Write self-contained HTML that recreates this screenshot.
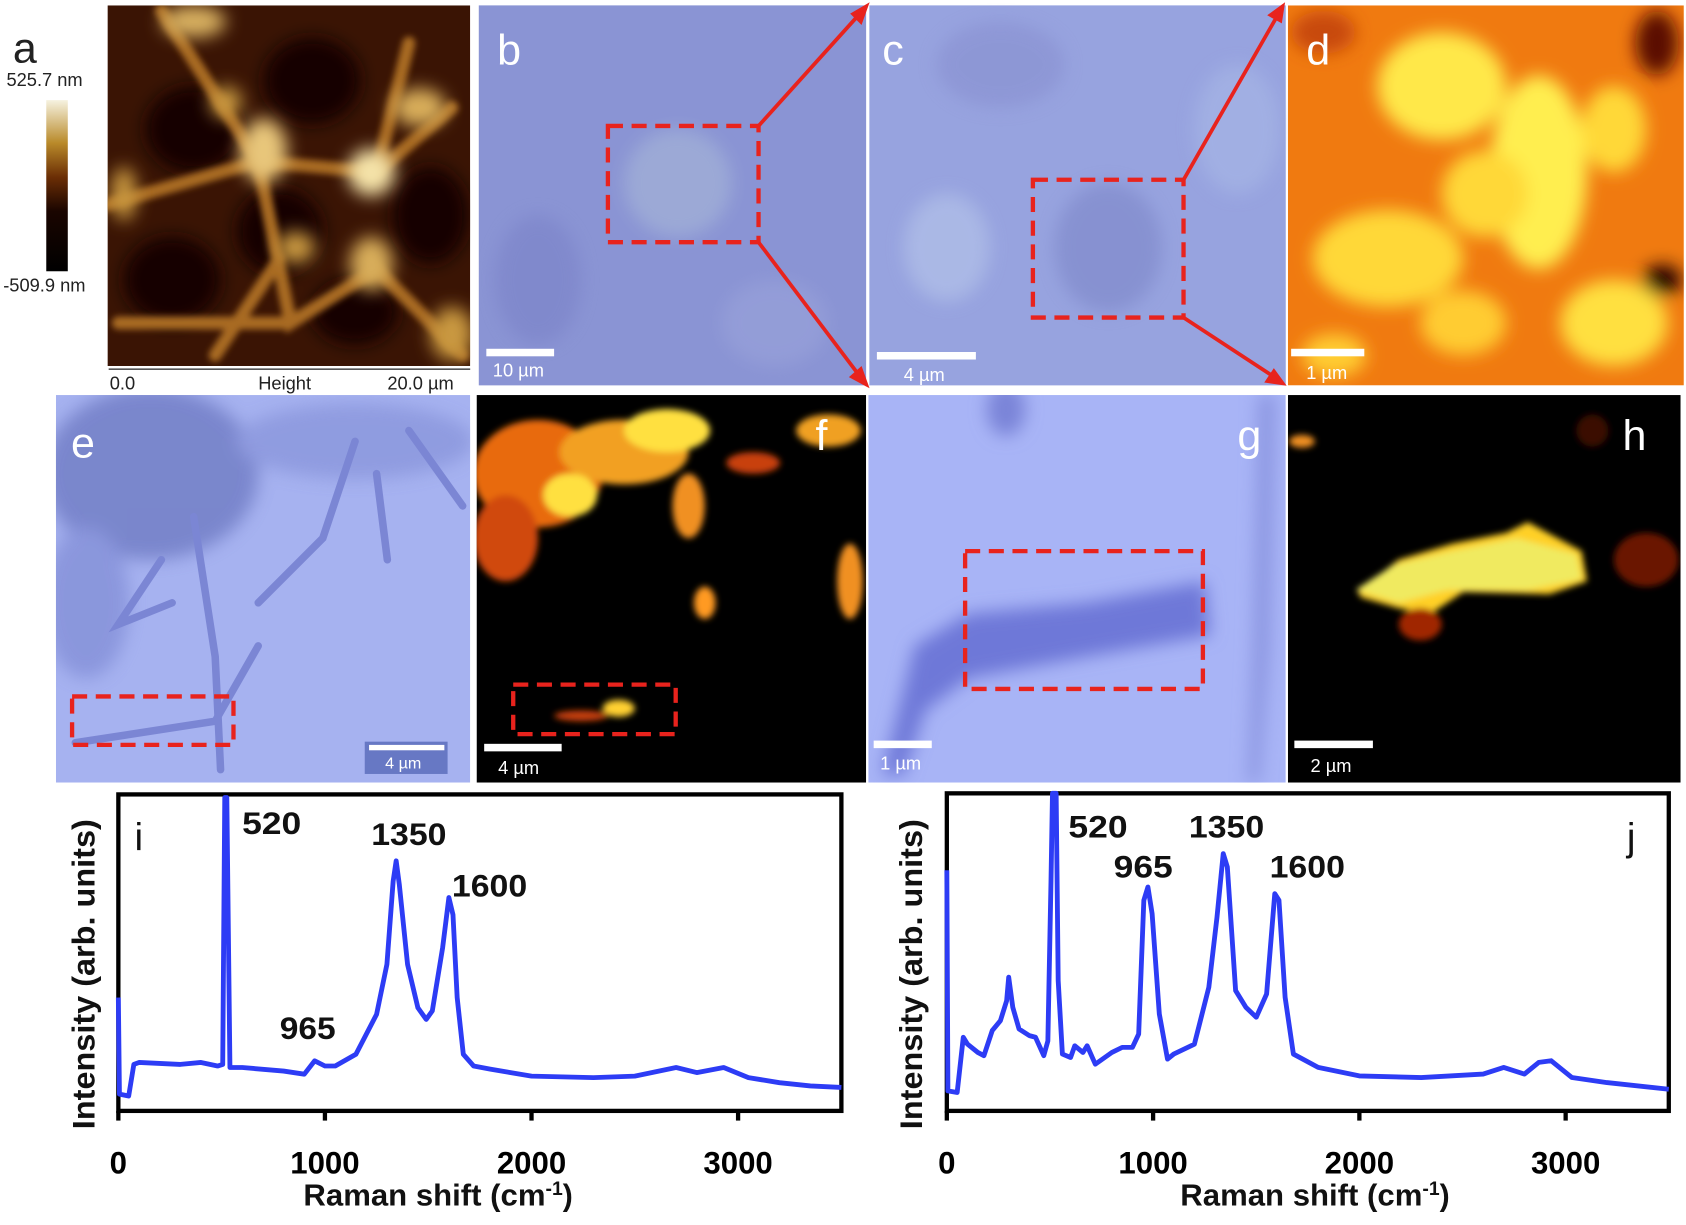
<!DOCTYPE html>
<html><head><meta charset="utf-8"><style>
html,body{margin:0;padding:0;background:#fff;}
svg{display:block;}
.lbl{font-family:"Liberation Sans",sans-serif;}
</style></head><body>
<svg id="fig" width="1686" height="1225" viewBox="0 0 1567 1138" preserveAspectRatio="none" xmlns="http://www.w3.org/2000/svg">
<defs>
<linearGradient id="cbar" x1="0" y1="1" x2="0" y2="0">
<stop offset="0" stop-color="#000"/><stop offset="0.35" stop-color="#1a0500"/><stop offset="0.55" stop-color="#6b2e05"/><stop offset="0.75" stop-color="#b98a2a"/><stop offset="1" stop-color="#f6f2e0"/></linearGradient>
<filter id="bl" x="-50%" y="-50%" width="200%" height="200%"><feGaussianBlur stdDeviation="8"/></filter>
<filter id="bl2" x="-50%" y="-50%" width="200%" height="200%"><feGaussianBlur stdDeviation="3"/></filter>
<clipPath id="cpa"><rect x="100" y="5" width="337" height="335"/></clipPath>
<clipPath id="cpd"><rect x="1197" y="5" width="368" height="353"/></clipPath>
<clipPath id="cpf"><rect x="443" y="367" width="362" height="360"/></clipPath>
<clipPath id="cph"><rect x="1197" y="367" width="365" height="360"/></clipPath>
<clipPath id="cpe"><rect x="52" y="367" width="385" height="360"/></clipPath>
<clipPath id="cpg"><rect x="807" y="367" width="388" height="360"/></clipPath>
</defs>

<!-- Panel a -->
<g>
<text class="lbl" x="12" y="58" font-size="40" fill="#222">a</text>
<text class="lbl" x="6" y="80" font-size="17" fill="#222">525.7 nm</text>
<rect x="43" y="93" width="20" height="159" fill="url(#cbar)"/>
<text class="lbl" x="3" y="271" font-size="17" fill="#222">-509.9 nm</text>
<g clip-path="url(#cpa)">
<rect x="100" y="5" width="337" height="335" fill="#3a1404"/>
<g filter="url(#bl)">
<ellipse cx="290" cy="75" rx="45" ry="40" fill="#150400"/>
<ellipse cx="180" cy="120" rx="45" ry="40" fill="#150400"/>
<ellipse cx="260" cy="215" rx="40" ry="40" fill="#150400"/>
<ellipse cx="400" cy="200" rx="35" ry="45" fill="#150400"/>
<ellipse cx="160" cy="260" rx="45" ry="40" fill="#150400"/>
<ellipse cx="330" cy="290" rx="40" ry="30" fill="#150400"/>
</g>
<g filter="url(#bl2)" stroke="#a86a20" stroke-width="12" fill="none" stroke-linecap="round">
<path d="M150 10 L240 150 L350 160 L420 100"/><path d="M240 150 L270 300 L350 250 L430 330"/><path d="M100 190 L240 150"/><path d="M350 160 L380 40"/><path d="M110 300 L270 300"/><path d="M200 330 L260 240"/>
</g>
<g filter="url(#bl)">
<ellipse cx="245" cy="140" rx="22" ry="30" fill="#e8c67a"/>
<ellipse cx="345" cy="160" rx="22" ry="22" fill="#f4e2a8"/>
<ellipse cx="390" cy="100" rx="25" ry="18" fill="#d8ad5a"/>
<ellipse cx="180" cy="20" rx="30" ry="15" fill="#d8b060"/>
<ellipse cx="345" cy="245" rx="20" ry="25" fill="#d8ad5a"/>
<ellipse cx="275" cy="230" rx="18" ry="15" fill="#c99840"/>
<ellipse cx="420" cy="310" rx="20" ry="25" fill="#c99840"/>
<ellipse cx="210" cy="95" rx="15" ry="15" fill="#c99840"/>
<ellipse cx="115" cy="180" rx="12" ry="25" fill="#c99840"/>
</g>
</g>
<line x1="101" y1="343" x2="437" y2="343" stroke="#555" stroke-width="1.5"/>
<text class="lbl" x="102" y="362" font-size="17" fill="#222">0.0</text>
<text class="lbl" x="240" y="362" font-size="17" fill="#222">Height</text>
<text class="lbl" x="360" y="362" font-size="17" fill="#222">20.0 µm</text>
</g>

<!-- Panel b -->
<g>
<rect x="445" y="5" width="360" height="353" fill="#8a94d4"/>
<g filter="url(#bl)" opacity="0.6"><ellipse cx="630" cy="170" rx="50" ry="50" fill="#a8b8d8"/><ellipse cx="500" cy="260" rx="40" ry="60" fill="#7a82c8"/><ellipse cx="720" cy="300" rx="50" ry="40" fill="#9aa3da"/></g>
<rect x="565" y="117" width="140" height="108" fill="none" stroke="#e8231d" stroke-width="4" stroke-dasharray="14,8"/>
<rect x="452" y="324" width="63" height="7" fill="#fff"/>
<text class="lbl" x="458" y="350" font-size="17" fill="#fff">10 µm</text>
<text class="lbl" x="462" y="60" font-size="40" fill="#fff">b</text>
</g>

<!-- Panel c -->
<g>
<rect x="808" y="5" width="387" height="353" fill="#97a3df"/>
<g filter="url(#bl)" opacity="0.6"><ellipse cx="880" cy="230" rx="40" ry="50" fill="#b7c6ea"/><ellipse cx="1030" cy="230" rx="50" ry="60" fill="#7d86c8"/><ellipse cx="1150" cy="120" rx="40" ry="60" fill="#a8b8e6"/><ellipse cx="930" cy="60" rx="60" ry="40" fill="#8890d0"/></g>
<rect x="960" y="167" width="140" height="128" fill="none" stroke="#e8231d" stroke-width="4" stroke-dasharray="14,8"/>
<rect x="815" y="327" width="92" height="7" fill="#fff"/>
<text class="lbl" x="840" y="354" font-size="17" fill="#fff">4 µm</text>
<text class="lbl" x="820" y="60" font-size="40" fill="#fff">c</text>
</g>

<!-- Panel d -->
<g>
<g clip-path="url(#cpd)">
<rect x="1197" y="5" width="368" height="353" fill="#f07a10"/>
<g filter="url(#bl)">
<ellipse cx="1340" cy="80" rx="60" ry="50" fill="#ffe84a"/>
<ellipse cx="1430" cy="160" rx="45" ry="90" fill="#ffee50"/>
<ellipse cx="1290" cy="240" rx="70" ry="45" fill="#ffd838"/>
<ellipse cx="1500" cy="300" rx="50" ry="40" fill="#ffe040"/>
<ellipse cx="1360" cy="300" rx="40" ry="30" fill="#ffcc30"/>
<ellipse cx="1380" cy="180" rx="40" ry="40" fill="#ffd838"/>
<ellipse cx="1500" cy="120" rx="30" ry="40" fill="#ffd838"/>
<ellipse cx="1240" cy="330" rx="30" ry="20" fill="#ffcc30"/>
<ellipse cx="1540" cy="40" rx="20" ry="30" fill="#5a1000"/>
<ellipse cx="1545" cy="260" rx="18" ry="14" fill="#200000"/>
<ellipse cx="1230" cy="30" rx="30" ry="20" fill="#c84808"/>
</g>
</g>
<rect x="1200" y="324" width="68" height="7" fill="#fff"/>
<text class="lbl" x="1214" y="352" font-size="17" fill="#fff">1 µm</text>
<text class="lbl" x="1214" y="60" font-size="40" fill="#fff">d</text>
</g>

<!-- zoom arrows -->
<g stroke="#e8231d" stroke-width="3.5" fill="#e8231d">
<line x1="705" y1="117" x2="798" y2="14"/><polygon points="805,6 793,13 800,20" />
<line x1="705" y1="225" x2="798" y2="348"/><polygon points="805,357 792,350 800,343"/>
<line x1="1100" y1="167" x2="1187" y2="15"/><polygon points="1192,6 1181,14 1190,19"/>
<line x1="1100" y1="295" x2="1184" y2="350"/><polygon points="1192,356 1178,354 1184,345"/>
</g>

<!-- Panel e -->
<g>
<g clip-path="url(#cpe)">
<rect x="52" y="367" width="385" height="360" fill="#a6b2f0"/>
<g filter="url(#bl)" opacity="0.8"><ellipse cx="140" cy="440" rx="100" ry="80" fill="#6f7cc4"/><ellipse cx="330" cy="410" rx="110" ry="35" fill="#8a96dc"/><ellipse cx="80" cy="560" rx="40" ry="70" fill="#8490d8"/></g>
<g stroke="#7b86d4" stroke-width="7" fill="none" stroke-linecap="round">
<path d="M180 480 L200 610 L205 715"/><path d="M240 560 L300 500 L330 410"/><path d="M350 440 L360 520"/><path d="M70 690 L200 670 L240 600"/><path d="M150 520 L110 580 L160 560"/><path d="M380 400 L430 470"/>
</g>
</g>
<rect x="67" y="647" width="150" height="45" fill="none" stroke="#e8231d" stroke-width="4" stroke-dasharray="14,8"/>
<rect x="339" y="689" width="77" height="30" fill="#6778c4"/>
<rect x="343" y="692" width="70" height="5" fill="#fff"/>
<text class="lbl" x="358" y="714" font-size="15" fill="#fff">4 µm</text>
<text class="lbl" x="66" y="425" font-size="40" fill="#fff">e</text>
</g>

<!-- Panel f -->
<g>
<g clip-path="url(#cpf)">
<rect x="443" y="367" width="362" height="360" fill="#000"/>
<g filter="url(#bl2)">
<ellipse cx="500" cy="440" rx="60" ry="50" fill="#e86a10"/>
<ellipse cx="580" cy="420" rx="60" ry="30" fill="#f2a020"/>
<ellipse cx="620" cy="400" rx="40" ry="20" fill="#ffe040"/>
<ellipse cx="470" cy="500" rx="30" ry="40" fill="#d04808"/>
<ellipse cx="530" cy="460" rx="25" ry="20" fill="#ffe040"/>
<ellipse cx="640" cy="470" rx="15" ry="30" fill="#f09020"/>
<ellipse cx="770" cy="400" rx="30" ry="15" fill="#f0a020"/>
<ellipse cx="790" cy="540" rx="12" ry="35" fill="#f09020"/>
<ellipse cx="655" cy="560" rx="10" ry="15" fill="#ff9a20"/>
<ellipse cx="700" cy="430" rx="25" ry="10" fill="#c84008"/>
<ellipse cx="575" cy="658" rx="15" ry="8" fill="#ffd030"/>
<ellipse cx="540" cy="665" rx="25" ry="5" fill="#c84008"/>
</g>
</g>
<rect x="477" y="636" width="151" height="46" fill="none" stroke="#e8231d" stroke-width="4" stroke-dasharray="14,8"/>
<rect x="450" y="691" width="72" height="7" fill="#fff"/>
<text class="lbl" x="463" y="719" font-size="17" fill="#fff">4 µm</text>
<text class="lbl" x="758" y="418" font-size="40" fill="#fff">f</text>
</g>

<!-- Panel g -->
<g>
<g clip-path="url(#cpg)">
<rect x="807" y="367" width="388" height="360" fill="#a8b4f6"/>
<g filter="url(#bl)">
<path d="M820 720 L850 600 L900 570 L1010 560 L1120 540 L1125 590 L1010 610 L900 630 L860 660 L840 720 Z" fill="#6e78d8"/>
<ellipse cx="935" cy="380" rx="18" ry="25" fill="#7a84d8"/>
<path d="M1170 367 L1185 367 L1180 600 L1170 727 L1160 727 L1165 600 Z" fill="#8a94e0"/>
</g>
</g>
<rect x="897" y="512" width="221" height="128" fill="none" stroke="#e8231d" stroke-width="4" stroke-dasharray="14,8"/>
<rect x="812" y="688" width="54" height="7" fill="#fff"/>
<text class="lbl" x="818" y="715" font-size="17" fill="#fff">1 µm</text>
<text class="lbl" x="1150" y="418" font-size="40" fill="#fff">g</text>
</g>

<!-- Panel h -->
<g>
<g clip-path="url(#cph)">
<rect x="1197" y="367" width="365" height="360" fill="#000"/>
<g filter="url(#bl2)">
<path d="M1262 550 L1300 520 L1350 505 L1400 495 L1420 485 L1470 512 L1475 540 L1440 552 L1360 550 L1330 570 L1300 565 L1265 555 Z" fill="#ffd028"/>
<path d="M1260 548 L1295 525 L1350 512 L1410 500 L1465 515 L1470 538 L1420 548 L1345 548 L1300 560 Z" fill="#f0ea60"/>
<ellipse cx="1530" cy="520" rx="30" ry="25" fill="#6a1400"/>
<ellipse cx="1210" cy="410" rx="12" ry="6" fill="#f09020"/>
<ellipse cx="1320" cy="580" rx="20" ry="15" fill="#a02800"/>
<ellipse cx="1480" cy="400" rx="15" ry="15" fill="#3a0800"/>
</g>
</g>
<rect x="1203" y="688" width="73" height="7" fill="#fff"/>
<text class="lbl" x="1218" y="717" font-size="17" fill="#fff">2 µm</text>
<text class="lbl" x="1508" y="418" font-size="40" fill="#fff">h</text>
</g>

<g id="chartI"></g>
<g id="chartJ"></g>
</svg>
<script>
// Spectrum i data
const iShift = [0,5,50,75,100,300,400,480,505,515,525,540,600,800,900,950,1000,1050,1150,1250,1300,1330,1345,1360,1400,1450,1490,1520,1570,1600,1620,1640,1670,1720,1800,2000,2300,2500,2700,2800,2930,3050,3200,3350,3500];
const iIntensity = [35.8,5.3,4.7,14.7,15.3,14.7,15.3,14.2,14.7,99,99,13.7,13.7,12.6,11.6,15.8,14.2,14.2,17.9,30.5,46.3,72.6,79,71.6,46.3,32.6,28.9,31.6,51.6,67.4,62,35.8,17.9,14.2,13.2,11,10.5,11,13.7,12.1,13.7,10.5,8.9,7.9,7.4];
// Spectrum j data
const jShift = [0,5,50,80,100,150,180,220,260,290,300,320,350,400,430,470,490,505,512,530,540,560,600,620,660,680,720,800,850,900,930,955,975,995,1030,1070,1100,1200,1270,1310,1340,1360,1400,1450,1500,1550,1590,1610,1640,1680,1800,2000,2300,2600,2700,2800,2870,2930,3030,3200,3500];
const jIntensity = [75.8,6.3,5.8,23.2,21,18.4,17.4,25.3,28.4,34.7,42.1,32.6,25.8,23.7,23.2,17.4,22,72,100,100,41,17.9,16.8,20.5,18.4,20.5,14.7,18.4,20,20,24.2,66.3,70.5,62.1,30.5,16.3,17.9,21,38.9,61,81,76.8,37.9,32.6,29.5,36.8,68.4,66.3,35.8,17.9,13.7,11,10.5,11.6,13.7,11.6,15.3,15.8,10.5,8.9,6.8];
const xTicks = [0,1000,2000,3000];
const peakLabelsI = ["520","1350","1600","965"];
const peakLabelsJ = ["520","965","1350","1600"];

const NS = "http://www.w3.org/2000/svg";
function mk(tag, attrs, parent){const e=document.createElementNS(NS,tag);for(const k in attrs)e.setAttribute(k,attrs[k]);parent.appendChild(e);return e;}

function drawChart(g, cfg, xs, ys, labels, labelPos, letter){
  const sx = v => cfg.x0 + (v/3500)*(cfg.x1-cfg.x0);
  const sy = v => cfg.yb - (v/100)*(cfg.yb-cfg.yt);
  const frame = mk('rect',{x:cfg.x0,y:cfg.yt,width:cfg.x1-cfg.x0,height:cfg.yb-cfg.yt,fill:'none',stroke:'#000','stroke-width':4},g);
  
  
  xTicks.forEach(t=>{
    const tk = mk('line',{x1:sx(t),x2:sx(t),y1:cfg.yb,y2:cfg.yb+9,stroke:'#000','stroke-width':4},g);
    
    
    const tl = mk('text',{x:sx(t),y:cfg.yb+58,'text-anchor':'middle','font-size':29,'font-weight':'bold','font-family':'Liberation Sans, sans-serif',fill:'#000'},g);
    tl.textContent = t;
    
    
  });
  let d='';
  xs.forEach((x,k)=>{d += (k?'L':'M') + sx(x).toFixed(1)+' '+sy(ys[k]).toFixed(1)+' ';});
  const line = mk('path',{d:d,fill:'none',stroke:'#2d3cf5','stroke-width':4.5,'stroke-linejoin':'round'},g);
  
  
  labels.forEach((s,k)=>{
    const t = mk('text',{x:labelPos[k][0],y:labelPos[k][1],'font-size':29,'font-weight':'bold','font-family':'Liberation Sans, sans-serif',fill:'#111',textLength:labelPos[k][2],lengthAdjust:'spacingAndGlyphs'},g);
    t.textContent = s;
    
    
  });
  const lt = mk('text',{x:letter[0],y:letter[1],'font-size':36,'font-family':'Liberation Sans, sans-serif',fill:'#111'},g);
  lt.textContent = letter[2];
  
  
  const yl = mk('text',{transform:`translate(${cfg.yx},${cfg.ymid}) rotate(-90)`,'text-anchor':'middle','font-size':29,'font-weight':'bold','font-family':'Liberation Sans, sans-serif',fill:'#111',textLength:288,lengthAdjust:'spacingAndGlyphs'},g);
  yl.textContent = 'Intensity (arb. units)';
  
  
  const xl = mk('text',{x:cfg.xlx,y:cfg.yb+88,'font-size':28,'font-weight':'bold','font-family':'Liberation Sans, sans-serif',fill:'#111'},g);
  
  
  const a = mk('tspan',{textLength:225,lengthAdjust:'spacingAndGlyphs'},xl); a.textContent='Raman shift (cm';
  const b = mk('tspan',{dy:-10,'font-size':18},xl); b.textContent='-1';
  const c = mk('tspan',{dy:10},xl); c.textContent=')';
}
drawChart(document.getElementById('chartI'),{x0:110,x1:782,yt:738,yb:1032,yx:88,ymid:905,xlx:282},iShift,iIntensity,peakLabelsI,[[225,775,55],[345,785,70],[420,833,70],[260,965,52]],[125,790,'i']);
drawChart(document.getElementById('chartJ'),{x0:880,x1:1551,yt:737,yb:1032,yx:857,ymid:905,xlx:1097},jShift,jIntensity,peakLabelsJ,[[993,778,55],[1035,815,55],[1105,778,70],[1180,815,70]],[1512,790,'j']);
</script>
</body></html>
